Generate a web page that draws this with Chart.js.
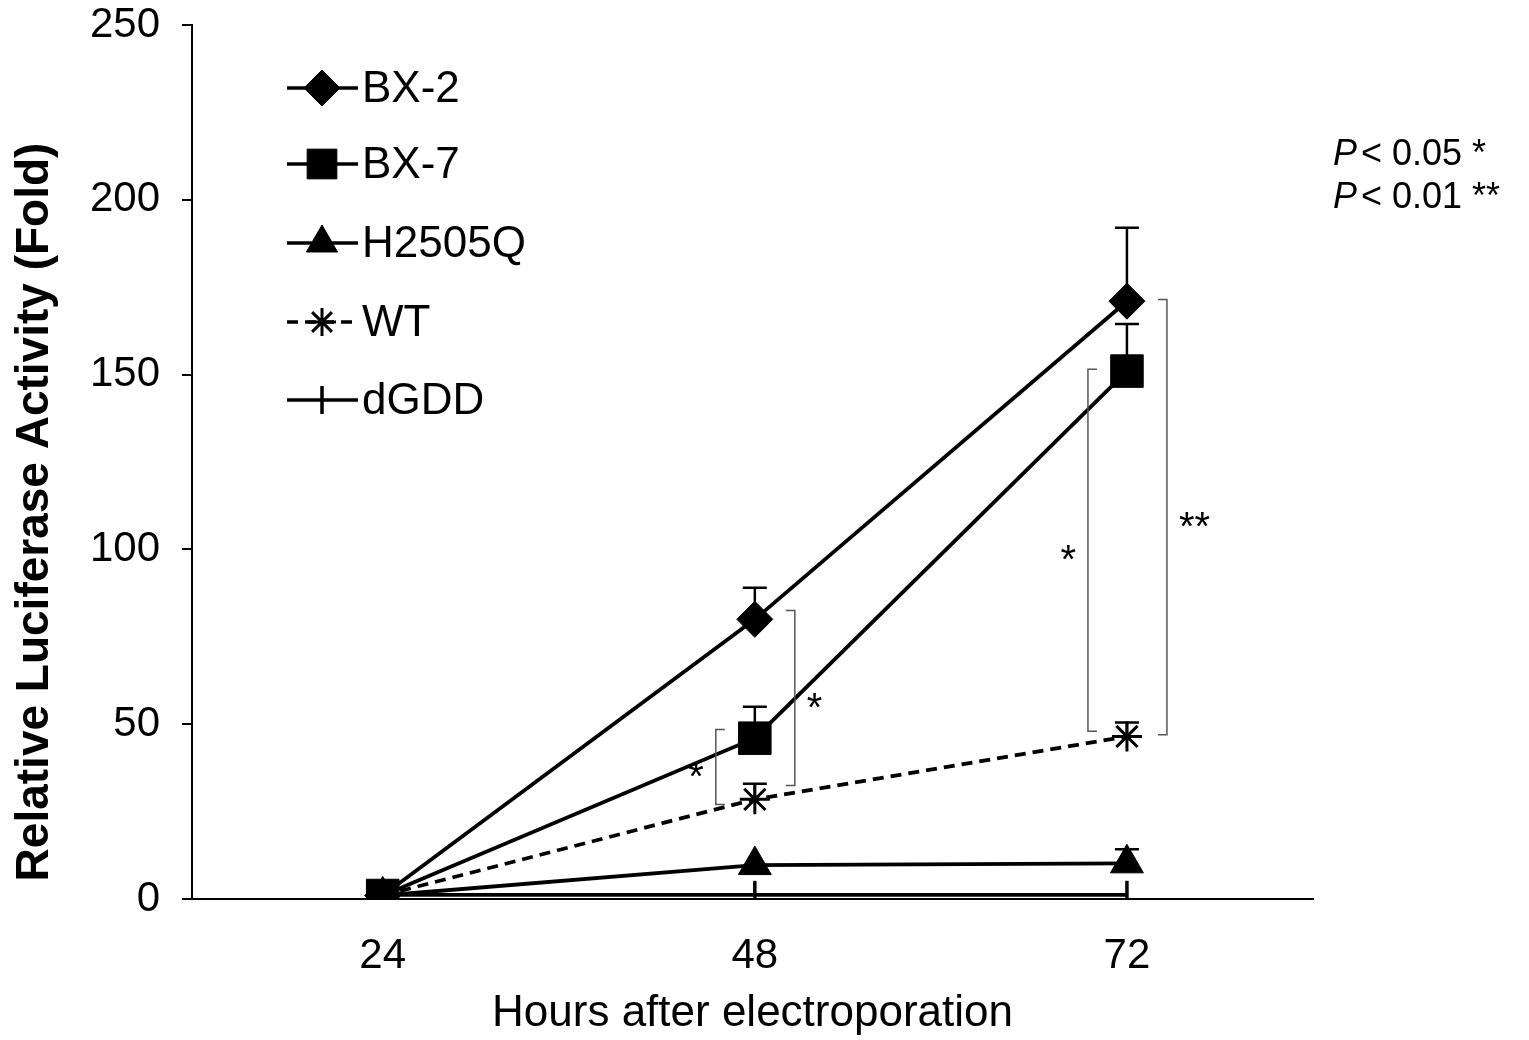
<!DOCTYPE html>
<html>
<head>
<meta charset="utf-8">
<script src="https://cdn.jsdelivr.net/npm/chart.js@4.4.1/dist/chart.umd.min.js"></script>
<style>
  html, body { margin: 0; padding: 0; background: #fff; }
</style>
</head>
<body>
<canvas id="luciferaseChart" width="1529" height="1040"></canvas>
<script>
// ===== DATA =====
const hours = [24, 48, 72];
const yTicks = [0, 50, 100, 150, 200, 250];

const bx2 = [1, 80, 171];
const bx2Err = [0, 9, 21];
const bx7 = [1, 46, 151];
const bx7Err = [0, 9, 13.5];
const h2505q = [1, 9.7, 10.2];
const h2505qErr = [0, 0, 4];
const wt = [1, 28.5, 46.5];
const wtErr = [0, 4.5, 4];
const dgdd = [1.2, 1.2, 1.2];

// significance brackets: hour, upper value, lower value, side, mark
const bracketHour = [48, 48, 72, 72];
const bracketTop = [48.5, 82.5, 151.5, 171.5];
const bracketBottom = [27, 32.5, 48, 47];
const bracketSide = ['left', 'right', 'left', 'right'];
const bracketMark = ['*', '*', '*', '**'];

const FONT = "'Liberation Sans', Arial, Helvetica, sans-serif";

// ===== PLUGINS =====
const errorBars = {
  id: 'errorBars',
  beforeDatasetsDraw(chart) {
    const { ctx, scales: { x, y } } = chart;
    ctx.save();
    ctx.strokeStyle = '#000';
    ctx.lineWidth = 2.5;
    chart.data.datasets.forEach(ds => {
      if (!ds.err) return;
      ds.data.forEach((pt, i) => {
        const e = ds.err[i];
        if (!e) return;
        const px = x.getPixelForValue(pt.x);
        const p0 = y.getPixelForValue(pt.y);
        const p1 = y.getPixelForValue(pt.y + e);
        ctx.beginPath();
        ctx.moveTo(px, p0);
        ctx.lineTo(px, p1);
        ctx.moveTo(px - 12, p1);
        ctx.lineTo(px + 12, p1);
        ctx.stroke();
      });
    });
    ctx.restore();
  }
};

const brackets = {
  id: 'brackets',
  afterDatasetsDraw(chart) {
    const { ctx, scales: { x, y } } = chart;
    ctx.save();
    ctx.strokeStyle = '#555';
    ctx.lineWidth = 1.5;
    ctx.fillStyle = '#000';
    ctx.font = '40px ' + FONT;
    ctx.textBaseline = 'middle';
    bracketHour.forEach((h, i) => {
      const left = bracketSide[i] === 'left';
      const bx = x.getPixelForValue(h) + (left ? -39 : 40);
      const t = y.getPixelForValue(bracketTop[i]);
      const b = y.getPixelForValue(bracketBottom[i]);
      const d = left ? 9 : -9;
      ctx.beginPath();
      ctx.moveTo(bx + d, t);
      ctx.lineTo(bx, t);
      ctx.lineTo(bx, b);
      ctx.lineTo(bx + d, b);
      ctx.stroke();
      ctx.textAlign = left ? 'right' : 'left';
      ctx.fillText(bracketMark[i], bx + (left ? -12 : 12), (t + b) / 2 + 12);
    });
    ctx.restore();
  }
};

const annotations = {
  id: 'annotations',
  afterDraw(chart) {
    const { ctx } = chart;
    const drawPoint = Chart.helpers.drawPoint;
    ctx.save();

    // legend rows
    const rowY = [88, 164, 243, 322, 400];
    chart.data.datasets.forEach((ds, i) => {
      const cy = rowY[i];
      ctx.strokeStyle = '#000';
      ctx.fillStyle = '#000';
      ctx.lineWidth = 3.5;
      ctx.setLineDash(ds.borderDash || []);
      ctx.beginPath();
      ctx.moveTo(287, cy);
      ctx.lineTo(358, cy);
      ctx.stroke();
      ctx.setLineDash([]);
      ctx.lineWidth = ds.pointBorderWidth;
      drawPoint(ctx, {
        pointStyle: ds.pointStyle,
        rotation: ds.pointRotation || 0,
        radius: ds.legendRadius,
        borderWidth: ds.pointBorderWidth
      }, 322, cy);
      ctx.font = '44px ' + FONT;
      ctx.textAlign = 'left';
      ctx.textBaseline = 'middle';
      ctx.fillText(ds.label, 362, cy + 2);
    });

    // p-value key
    const lines = [['< 0.05 *', 155], ['< 0.01 **', 198]];
    lines.forEach(([rest, cy]) => {
      ctx.textBaseline = 'middle';
      ctx.textAlign = 'left';
      ctx.font = 'italic 36px ' + FONT;
      ctx.fillText('P', 1333, cy);
      const w = ctx.measureText('P').width;
      ctx.font = '36px ' + FONT;
      ctx.fillText(rest, 1333 + w + 4, cy);
    });

    // y axis title
    ctx.translate(35, 512);
    ctx.rotate(-Math.PI / 2);
    ctx.font = 'bold 46px ' + FONT;
    ctx.textAlign = 'center';
    ctx.textBaseline = 'middle';
    ctx.fillText('Relative Luciferase Activity (Fold)', 0, 0);
    ctx.restore();
  }
};

// ===== CHART =====
Chart.defaults.font.family = FONT;
Chart.defaults.color = '#000';

const seriesBase = {
  borderColor: '#000',
  backgroundColor: '#000',
  pointBackgroundColor: '#000',
  pointBorderColor: '#000',
  borderWidth: 3.8,
  tension: 0
};

new Chart(document.getElementById('luciferaseChart'), {
  type: 'line',
  data: {
    datasets: [
      { ...seriesBase, label: 'BX-2', data: bx2.map((v, i) => ({ x: hours[i], y: v })), err: bx2Err,
        pointStyle: 'rectRot', pointRadius: 18, legendRadius: 18, pointBorderWidth: 1, order: 1 },
      { ...seriesBase, label: 'BX-7', data: bx7.map((v, i) => ({ x: hours[i], y: v })), err: bx7Err,
        pointStyle: 'rect', pointRadius: 23, legendRadius: 21, pointBorderWidth: 1, order: 0 },
      { ...seriesBase, label: 'H2505Q', data: h2505q.map((v, i) => ({ x: hours[i], y: v })), err: h2505qErr,
        pointStyle: 'triangle', pointRadius: 19, legendRadius: 18, pointBorderWidth: 1, order: 2 },
      { ...seriesBase, label: 'WT', data: wt.map((v, i) => ({ x: hours[i], y: v })), err: wtErr,
        borderDash: [11, 7], pointStyle: 'star', pointRadius: 15, legendRadius: 14, pointBorderWidth: 3, order: 3 },
      { ...seriesBase, label: 'dGDD', data: dgdd.map((v, i) => ({ x: hours[i], y: v })),
        pointStyle: 'line', pointRotation: 90, pointRadius: 14, legendRadius: 14, pointBorderWidth: 3.5, order: 4 }
    ]
  },
  options: {
    responsive: false,
    animation: false,
    layout: { padding: { top: 25, right: 216, left: 0, bottom: 0 } },
    plugins: {
      legend: { display: false },
      tooltip: { enabled: false }
    },
    scales: {
      x: {
        type: 'linear',
        min: 11.7,
        max: 84,
        afterBuildTicks: s => { s.ticks = hours.map(v => ({ value: v })); },
        afterFit: s => { s.height = 141; s.paddingLeft = 0; s.paddingRight = 0; },
        grid: { display: false },
        border: { color: '#000', width: 2 },
        ticks: { font: { size: 42 }, color: '#000', padding: 24 },
        title: { display: true, text: 'Hours after electroporation', font: { size: 44 }, color: '#000', padding: { top: 0, bottom: 0 } }
      },
      y: {
        min: 0,
        max: 250,
        afterBuildTicks: s => { s.ticks = yTicks.map(v => ({ value: v })); },
        afterFit: s => { s.width = 192; s.paddingTop = 0; s.paddingBottom = 0; },
        grid: { drawOnChartArea: false, color: '#000', lineWidth: 2, tickLength: 10 },
        border: { color: '#000', width: 2 },
        ticks: { font: { size: 42 }, color: '#000', padding: 22 }
      }
    }
  },
  plugins: [errorBars, brackets, annotations]
});
</script>
</body>
</html>
